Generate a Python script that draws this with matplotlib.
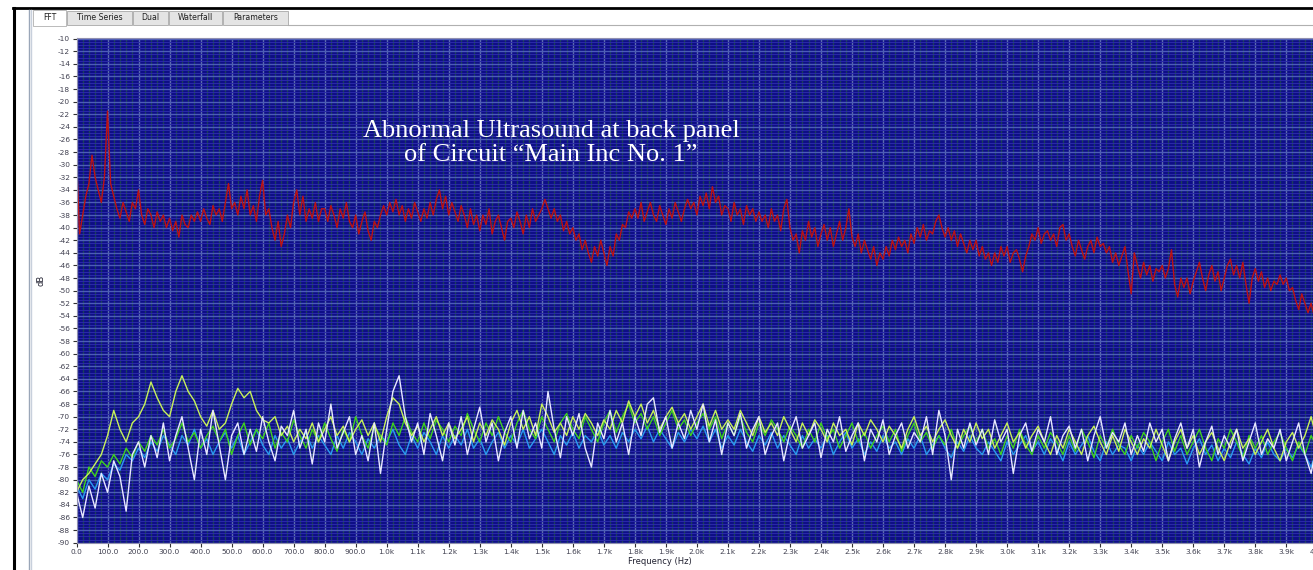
import numpy as np
import matplotlib
matplotlib.use("Agg")
import matplotlib.pyplot as plt
from matplotlib.patches import Rectangle
from matplotlib.lines import Line2D
from matplotlib.ticker import MultipleLocator, FuncFormatter

# ---------------- data (dB) ----------------
red_db = [
 -29, -41, -38, -35, -33, -28.5, -32, -34, -36, -32,
 -21.5, -33, -35, -37, -38.5, -36, -37.5, -39, -36, -37,
 -34, -38, -39.5, -37, -38, -40, -37.5, -39, -38, -40,
 -38.5, -40.5, -39, -41.5, -38, -39.5, -40, -38, -39, -37.5,
 -39, -37, -38.5, -39.5, -36.5, -38, -37, -39, -36, -33,
 -37, -36, -38, -35, -37, -34, -38, -36.5, -39, -35,
 -32.5, -38, -37, -40, -42, -39, -43, -41, -38, -40,
 -36, -34, -38, -35, -39, -37, -38.5, -36, -39, -37,
 -37, -39, -36.5, -38, -40, -37, -38.5, -36, -39, -40,
 -38, -41, -39, -37.5, -40.5, -42, -39, -40, -38, -36.5,
 -38, -36, -37.5, -35.5, -38, -36.5, -39, -37, -38.5, -36,
 -37.5, -39, -37, -38.5, -36, -38, -35.5, -34, -37, -35,
 -38, -36, -37.5, -39, -36.5, -38, -40, -37, -39.5, -38,
 -40.5, -38, -39.5, -37, -41, -39, -38, -40, -42, -39,
 -38.5, -40, -37.5, -39, -41, -38, -40, -37, -39, -38,
 -37, -35.5, -37, -38.5, -37, -39, -38, -40.5, -39, -41,
 -40, -42, -41, -43.5, -42, -44, -45.5, -43, -44.5, -42,
 -44, -46, -43, -44.5, -41, -42, -39.5, -40, -37.5, -38.5,
 -37, -38.5, -36, -39, -37.5, -36, -38, -39, -36.5, -38,
 -39.5, -37, -38.5, -36, -37.5, -39, -37, -35.5, -37, -36,
 -38, -35, -36.5, -34.5, -37, -33.5, -36, -35, -38, -36.5,
 -37, -39, -36, -38, -37, -39.5, -36.5, -38, -37, -39,
 -37.5, -39, -38, -40, -37, -39, -38, -40.5, -37, -35.5,
 -40, -42, -41, -44, -40.5, -42, -39, -41.5, -40, -43,
 -41, -39.5, -42, -40, -43, -41, -39, -42, -40, -37,
 -41.5, -43, -41, -44, -42, -43.5, -45, -43, -46, -44,
 -45, -43, -44.5, -42, -43.5, -41.5, -43, -42, -44, -41,
 -42.5, -40, -41.5, -39.5, -42, -40.5, -41, -39, -38, -40,
 -41.5, -40, -42, -40.5, -43, -41, -42.5, -44, -42, -43.5,
 -42, -44.5, -43, -45, -44, -46, -44, -45.5, -43, -44.5,
 -43, -45.5, -44, -43.5, -45, -47, -44.5, -43, -41, -42,
 -40, -42.5, -41, -40.5, -42, -41, -43, -40, -39.5, -42,
 -41, -43, -44.5, -42, -43.5, -45, -43, -42, -44, -41.5,
 -43, -42.5, -44, -43, -45.5, -44, -46, -44.5, -43, -47,
 -50.5, -44, -46, -48, -45.5, -47.5, -46, -48.5, -46.5, -47,
 -46, -48, -46.5, -43.5, -49, -51, -48, -49.5, -48, -50.5,
 -48.5, -47, -45.5, -48, -50, -47.5, -46, -48.5, -47, -50,
 -48, -46, -45, -47.5, -46, -48, -45.5, -49, -52, -48,
 -46.5, -48.5, -47, -49.5, -48, -50, -48.5, -49, -47.5, -49,
 -48, -50, -49.5, -51.5, -53, -50.5, -52, -53.5, -52, -54, -53.5,
]

white_db = [
 -82, -86, -81, -84.5, -79, -82, -77, -79.5, -85, -76,
 -74, -78, -73, -76.5, -71, -77, -73, -70, -75, -80,
 -72, -76, -69, -74.5, -80, -73, -71, -76, -72, -75.5,
 -70, -74, -77, -71.5, -73, -69, -75, -72, -77.5, -71,
 -74, -68, -75, -72.5, -70, -76, -73, -77, -71, -79,
 -72, -66, -63.5, -70, -74, -71, -76, -69.5, -73, -77,
 -71, -74.5, -70, -76, -72, -68.5, -74, -71, -77, -72.5,
 -70, -75, -69, -73.5, -71, -75, -66, -72, -76.5, -70,
 -73, -69.5, -75, -78, -71, -73.5, -69, -74, -71, -76,
 -70, -73, -68, -67, -72.5, -70, -75, -71, -73.5, -69,
 -72, -68, -74, -70.5, -76, -71, -73, -69.5, -75, -72,
 -70, -76, -73, -71, -77, -72.5, -70, -75, -73, -71,
 -76.5, -72, -74, -70, -75.5, -73, -71, -77, -72, -74,
 -70.5, -76, -73, -71, -75, -72.5, -74, -70, -76, -69,
 -73, -80, -72, -75, -71, -74.5, -72, -76, -70.5, -74,
 -72, -79, -73, -71, -75.5, -72, -74, -70, -76, -73,
 -71.5, -75, -72, -77, -73, -70, -75, -72.5, -74, -71,
 -76, -73, -75.5, -71, -74, -72, -77, -73.5, -71, -75,
 -72, -78, -74, -71.5, -76, -73, -75, -72, -77, -74,
 -71, -76, -73.5, -75, -72, -77, -74, -71, -76, -79, -74,
]

green_db = [
 -80, -82, -78, -79.5, -77, -78, -76, -77.5, -75, -76.5,
 -74, -75.5, -73, -74.5, -72, -75, -73.5, -71, -74, -72.5,
 -75, -73, -71.5, -74, -72, -76, -73, -71, -74.5, -72,
 -73.5, -71, -75, -72.5, -74, -70.5, -73, -75, -72, -74,
 -71, -73.5, -75.5, -72, -74, -70, -73, -75, -71.5, -73,
 -74.5, -71, -73, -70, -72.5, -74, -71, -73.5, -70.5, -72,
 -74, -71.5, -73, -69.5, -72, -74, -71, -73, -70, -72.5,
 -74, -71, -69, -72, -73.5, -70, -72, -74, -71, -69.5,
 -72, -73.5, -70, -72, -74, -71, -69, -72.5, -70, -68,
 -71, -69.5, -72, -70, -73, -71, -69, -72, -70.5, -73,
 -71, -69.5, -72, -70, -73.5, -71, -73, -70, -72.5, -74,
 -71, -73, -70.5, -72, -74, -71.5, -73, -75, -72, -74,
 -71, -73.5, -72, -75, -73, -71, -74, -72.5, -75, -73,
 -71.5, -74, -72, -75.5, -73, -71, -74, -72.5, -75, -73,
 -74.5, -72, -75, -73, -71.5, -74, -72, -75, -73.5, -76,
 -73, -75, -72, -74.5, -76, -73, -75, -72.5, -74, -76,
 -73, -75.5, -72, -74, -76.5, -73, -75, -72, -74.5, -76,
 -73, -75, -72.5, -74, -77, -74, -72, -75.5, -73, -76,
 -74, -72, -75, -77, -73.5, -75, -72, -74, -76.5, -73,
 -75, -73, -76, -74, -72.5, -75, -77, -74, -76, -73, -75,
]

lime_db = [
 -82, -80, -79, -77.5, -76, -73, -69, -72, -74, -71,
 -70, -68, -64.5, -67, -69, -70, -66, -63.5, -66, -67.5,
 -70, -71.5, -69, -72, -71, -68, -65.5, -67, -66, -69,
 -70.5, -71, -70, -73, -71.5, -74, -72, -73.5, -71, -74,
 -72, -70, -73, -71.5, -74, -72, -70.5, -73, -71, -74,
 -70, -67, -68, -71, -73, -71.5, -74, -72, -70, -73,
 -71, -73.5, -72, -70, -74, -71, -73, -70.5, -72, -74.5,
 -71, -69, -72, -70, -73, -68, -70, -72.5, -71, -73,
 -70, -72, -69.5, -71, -73, -70.5, -72, -69, -71, -67.5,
 -70, -68, -71, -69, -72, -70, -68.5, -71, -69.5, -72,
 -70, -68, -71.5, -69, -72, -70.5, -72, -69, -71, -73,
 -70, -72.5, -71, -73, -70, -72, -74, -71, -73, -70.5,
 -72, -74, -71, -73, -72, -74.5, -71, -73, -70.5, -72,
 -74, -71.5, -73, -75, -72, -70, -73, -71.5, -74, -72,
 -70.5, -73, -75, -72, -74, -71, -73.5, -72, -75, -73,
 -71, -74, -72.5, -75, -73, -71.5, -74, -76, -73, -75,
 -72, -74, -76, -73, -71.5, -74, -76, -73, -75.5, -72,
 -74, -76, -73.5, -75, -72, -74.5, -77, -74, -72, -75,
 -73, -76, -74, -72.5, -75, -77, -74, -72, -75, -73.5,
 -76, -74, -72, -75, -77, -74, -72.5, -75, -73, -70, -74,
]

cyan_db = [
 -81, -83, -80, -81.5, -79, -80, -77.5, -78.5, -76, -77,
 -75, -76.5, -74, -75.5, -73, -74.5, -76, -73, -74.5, -72,
 -75, -73.5, -76, -74, -72.5, -75, -73, -76, -74, -72,
 -74.5, -76, -73, -75, -73.5, -76, -74, -72.5, -75, -73,
 -74.5, -76, -73, -75, -72.5, -74, -76, -73.5, -75, -73,
 -74, -72, -74.5, -76, -73, -75, -72.5, -74, -76, -73,
 -75, -73, -74.5, -72, -75, -73.5, -76, -74, -72.5, -75,
 -73, -74.5, -72, -75, -73.5, -72, -74, -76, -73, -74.5,
 -72.5, -75, -73, -74, -72, -74.5, -73, -75, -72.5, -74,
 -72, -73.5, -71.5, -74, -72, -73.5, -75, -72.5, -74, -72,
 -73.5, -71.5, -74, -72, -75, -73, -74.5, -72, -74, -75.5,
 -73, -74.5, -72.5, -75, -73, -74.5, -76, -73, -75, -73.5,
 -75, -73, -76, -74, -72.5, -75, -73.5, -76, -74, -75.5,
 -73, -75, -74, -76, -73.5, -75, -73, -76, -74.5, -73,
 -75, -76.5, -74, -75.5, -73, -75, -76, -74, -75.5, -77,
 -74, -76, -74.5, -73, -75.5, -74, -76, -73.5, -75, -77,
 -74, -76, -74.5, -73, -75.5, -77, -74, -76, -74.5, -75,
 -77, -74.5, -76, -74, -75.5, -77, -74, -76, -75, -77.5,
 -75, -73.5, -76, -74.5, -77, -75, -76.5, -74, -76, -77.5,
 -75, -76.5, -74, -76, -77, -75, -76.5, -74.5, -76, -78, -75,
]

title_lines = ["Abnormal Ultrasound at back panel", "of Circuit \u201cMain Inc No. 1\u201d"]
tab_names = ["FFT", "Time Series", "Dual", "Waterfall", "Parameters"]
f_max = 4000

# ---------------- figure ----------------
W, H = 1313, 570
fig = plt.figure(figsize=(W / 100, H / 100), dpi=100)
fig.patch.set_facecolor("white")

def fx(x):
    return x / W

def fy(y):
    return 1 - y / H

def rect(x0, y0, x1, y1, fc, ec="none", lw=0.0, z=1):
    fig.add_artist(Rectangle((fx(x0), fy(y1)), (x1 - x0) / W, (y1 - y0) / H,
                             transform=fig.transFigure, facecolor=fc,
                             edgecolor=ec, linewidth=lw, zorder=z))

def hline(x0, x1, y, color, lw):
    fig.add_artist(Line2D([fx(x0), fx(x1)], [fy(y), fy(y)], transform=fig.transFigure,
                          color=color, linewidth=lw))

def vline(x, y0, y1, color, lw):
    fig.add_artist(Line2D([fx(x), fx(x)], [fy(y0), fy(y1)], transform=fig.transFigure,
                          color=color, linewidth=lw))

# UI chrome
hline(13, W, 8, "black", 2.0)
vline(14, 8, H, "black", 2.2)
vline(28.5, 10, H, "#9aa6b8", 1.0)
vline(30.5, 10, H, "#c8d0dc", 1.0)

tab_x = [(33, 66), (67, 132), (133, 168), (169, 222), (223, 288)]
for i, (name, (a, b)) in enumerate(zip(tab_names, tab_x)):
    if i == 0:
        rect(a, 10, b, 26, "white", "#b0b0b0", 0.6, z=3)
    else:
        rect(a, 11, b, 25, "#e4e4e4", "#a8a8a8", 0.6, z=3)
    fig.text(fx((a + b) / 2), fy(18), name, ha="center", va="center",
             fontsize=5.6, color="#202020", family="DejaVu Sans", zorder=4)
hline(288, W, 25, "#b0b0b0", 0.8)

# axes: px scale 0.3102 px/Hz, 6.3 px/dB
x0_px, top_px, bot_px = 76.5, 38.0, 542.7
x_span = 4100
ax_w_px = x_span * 0.3102
ax = fig.add_axes([fx(x0_px), fy(bot_px), ax_w_px / W, (bot_px - top_px) / H])
ax.set_facecolor("#0e0e86")
ax.set_xlim(0, x_span)
ax.set_ylim(-90, -9.9)

# grid
ax.xaxis.set_major_locator(MultipleLocator(100))
ax.xaxis.set_minor_locator(MultipleLocator(20))
ax.yaxis.set_major_locator(MultipleLocator(2))
ax.yaxis.set_minor_locator(MultipleLocator(0.5))
ax.grid(which="minor", axis="y", color="#2a2aa8", linewidth=0.7)
ax.grid(which="major", axis="y", color="#4c5cb8", linewidth=1.0)
ax.grid(which="minor", axis="x", color="#1a405a", linewidth=1.0)
ax.grid(which="major", axis="x", color="#5a6aac", linewidth=1.0)
ax.set_axisbelow(True)

def xfmt(v, pos):
    if v < 1000:
        return f"{v:.1f}"
    return f"{v / 1000:.1f}k"

ax.xaxis.set_major_formatter(FuncFormatter(xfmt))
ax.yaxis.set_major_formatter(FuncFormatter(lambda v, p: f"{int(round(v))}"))
ax.tick_params(which="major", length=3, width=0.8, color="#303030",
               labelsize=5.3, labelcolor="#404050", pad=1.5)
ax.tick_params(which="minor", length=0)
for s in ax.spines.values():
    s.set_color("#9090b0")
    s.set_linewidth(0.8)

ax.set_xlabel("Frequency (Hz)", fontsize=6, color="#202030", labelpad=1)
ax.xaxis.set_label_coords((660 - x0_px) / ax_w_px, -0.028)
ax.set_ylabel("dB", fontsize=6, color="#202030")
ax.yaxis.set_label_coords(-(x0_px - 46) / ax_w_px, 0.52)

# traces
def freqs(vals):
    return np.linspace(0, f_max, len(vals))

ax.plot(freqs(cyan_db), cyan_db, color="#2a9cf0", lw=1.0)
ax.plot(freqs(green_db), green_db, color="#3ed21e", lw=1.0)
ax.plot(freqs(lime_db), lime_db, color="#c8f25a", lw=1.0)
ax.plot(freqs(white_db), white_db, color="#e8e8ff", lw=1.0)
ax.plot(freqs(red_db), red_db, color="#bc1212", lw=1.0)

ax.text((551 - x0_px) / ax_w_px, (bot_px - 143) / (bot_px - top_px),
        "\n".join(title_lines), transform=ax.transAxes, ha="center", va="center",
        multialignment="center", fontsize=19, color="white",
        family="Liberation Serif", linespacing=1.12)

fig.savefig("out.png", dpi=100)
